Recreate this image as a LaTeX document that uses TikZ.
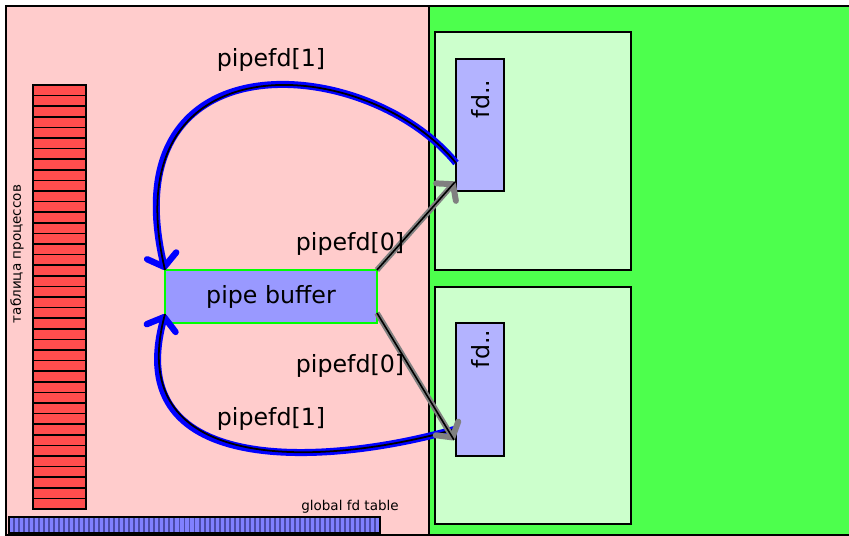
\documentclass[tikz,border=0pt]{standalone}
\usepackage{fontspec}
\setmainfont{DejaVu Sans}
\usetikzlibrary{arrows.meta}

\definecolor{kernpink}{HTML}{FFCCCC}
\definecolor{usergreen}{HTML}{4DFF4D}
\definecolor{procgreen}{HTML}{CCFFCC}
\definecolor{fdblue}{HTML}{B3B3FF}
\definecolor{bufblue}{HTML}{9999FF}
\definecolor{bufedge}{HTML}{00FF00}
\definecolor{slotred}{HTML}{FF4D4D}
\definecolor{tableblue}{HTML}{8080FF}
\definecolor{tableline}{HTML}{4A4AA8}
\definecolor{pipeblue}{HTML}{0000FF}
\definecolor{pipegray}{HTML}{808080}

\begin{document}
\begin{tikzpicture}[
  x=0.02cm, y=-0.02cm,
  every node/.style={inner sep=0pt, outer sep=0pt},
  region/.style={draw=black, line width=1.1pt, rectangle, anchor=north west},
  lbl/.style={font=\fontsize{13.5}{16}\selectfont, anchor=base},
  small/.style={font=\fontsize{7.7}{9}\selectfont},
  writeend/.style={draw=pipeblue, line width=4pt,
    -{Straight Barb[round, length=6.5pt, width=17pt, line width=3.6pt]}},
  readend/.style={draw=pipegray, line width=3.2pt,
    -{Straight Barb[round, length=6pt, width=15pt, line width=3.4pt]}},
  core/.style={draw=black, line width=1pt},
  thincore/.style={draw=black, line width=0.9pt}
]
\useasboundingbox (0,0) rectangle (849,535);

% kernel side and user side
\node[region, fill=kernpink, minimum width=8.46cm, minimum height=10.58cm] (kernel) at (6,6) {};
\node[region, fill=usergreen, minimum width=8.44cm, minimum height=10.58cm] (user) at (429,6) {};

% two processes with their fd tables
\node[region, fill=procgreen, minimum width=3.92cm, minimum height=4.76cm] (procA) at (435,32) {};
\node[region, fill=procgreen, minimum width=3.92cm, minimum height=4.74cm] (procB) at (435,287) {};
\node[region, fill=fdblue, line width=1pt, minimum width=0.96cm, minimum height=2.64cm] (fdA) at (456,59) {};
\node[region, fill=fdblue, line width=1pt, minimum width=0.96cm, minimum height=2.66cm] (fdB) at (456,323) {};
\node[lbl, anchor=center, rotate=90] (fdAtext) at (481,99) {fd..};
\node[lbl, anchor=center, rotate=90] (fdBtext) at (481,349) {fd..};

% process table
\node[region, fill=slotred, minimum width=1.06cm, minimum height=8.48cm] (ptable) at (33,85) {};
\foreach \i in {1,...,39}
  \draw[black, line width=0.9pt] (33,85+\i*10.6) -- (86,85+\i*10.6);
\node[small, rotate=90] (ptabletext) at (17,254) {таблица процессов};

% global fd table
\node[region, fill=tableblue, minimum width=7.42cm, minimum height=0.32cm] (gtable) at (9,517) {};
\foreach \i in {1,...,73}
  \draw[tableline, line width=1.1pt] (9+\i*5.014,518) -- (9+\i*5.014,532);
\draw[black, line width=1.1pt] (9,517) rectangle (380,533);
\node[small, anchor=base] (gtabletext) at (350,510) {global fd table};

% pipe buffer
\node[region, fill=bufblue, draw=bufedge, minimum width=4.24cm, minimum height=1.06cm] (pb) at (165,270) {};
\node[lbl] (pbtext) at (271,303) {pipe buffer};

% write ends
\draw[writeend] ([yshift=0.56cm]fdA.south west) .. controls +(-90,-110) and +(-55,-235) .. (pb.north west);
\draw[core] ([yshift=0.56cm]fdA.south west) .. controls +(-90,-110) and +(-55,-235) .. (pb.north west);
\draw[writeend] ([yshift=0.54cm]fdB.south west) .. controls +(-125,36) and +(-45,166) .. ([yshift=0.18cm]pb.south west);
\draw[core] ([yshift=0.54cm]fdB.south west) .. controls +(-125,36) and +(-45,166) .. ([yshift=0.18cm]pb.south west);

% read ends
\draw[readend] (pb.north east) -- ([xshift=-0.02cm, yshift=0.18cm]fdA.south west);
\draw[thincore] (pb.north east) -- ([xshift=-0.02cm, yshift=0.18cm]fdA.south west);
\draw[readend] ([yshift=0.2cm]pb.south east) -- ([xshift=-0.04cm, yshift=0.32cm]fdB.south west);
\draw[thincore] ([yshift=0.2cm]pb.south east) -- ([xshift=-0.04cm, yshift=0.32cm]fdB.south west);

% labels
\node[lbl] (w1top) at (271,66) {pipefd[1]};
\node[lbl] (r0top) at (350,250) {pipefd[0]};
\node[lbl] (r0bot) at (350,372) {pipefd[0]};
\node[lbl] (w1bot) at (271,425) {pipefd[1]};
\end{tikzpicture}
\end{document}
